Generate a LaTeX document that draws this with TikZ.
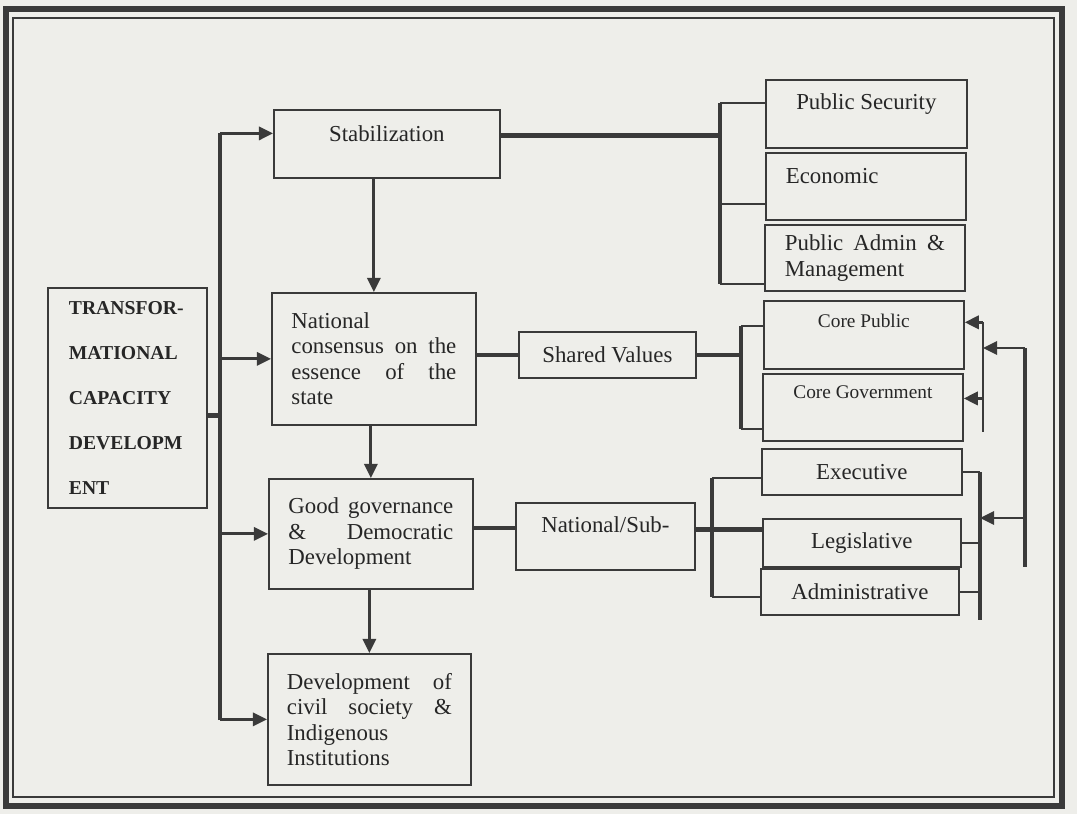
\documentclass[tikz,border=0pt]{standalone}
\usepackage{fontspec}
\setmainfont{Liberation Serif}
\usetikzlibrary{arrows.meta,calc}
\definecolor{ink}{RGB}{58,58,58}
\definecolor{inktext}{RGB}{38,38,38}
\definecolor{paper}{RGB}{238,238,234}
\tikzset{
  box/.style={draw=ink, line width=1pt, anchor=north west, inner sep=0pt,
    text=inktext, font=\fontsize{13}{14.5}\selectfont},
  para/.style={box, align=justify, text width=3.3cm},
  topline/.style 2 args={text height=#1, text depth=#2},
  conn/.style={draw=ink, line width=2.5pt},
  tick/.style={draw=ink, line width=1.2pt},
  arr/.style={draw=ink, line width=1.6pt, -{Triangle[length=8pt,width=7.5pt]}},
}

\begin{document}
\begin{tikzpicture}[x=0.02cm, y=-0.02cm]
\useasboundingbox (0,0) rectangle (1077,814);
\fill[paper] (0,0) rectangle (1077,814);
% frame
\draw[ink, line width=3.2pt] (6,9) rectangle (1062,806);
\draw[ink, line width=0.8pt] (13,18) rectangle (1054,797);

% left column
\node[box, minimum width=3.18cm, minimum height=4.4cm, align=left, text width=2.34cm,
  font=\bfseries\fontsize{11.2}{25.6}\selectfont] (tcd) at (47,287)
  {TRANSFOR-\\MATIONAL\\CAPACITY\\DEVELOPM\\ENT};

% middle column
\node[box, minimum width=4.52cm, topline={0.64cm}{0.72cm}] (stab) at (273,109) {Stabilization};
\node[para, minimum width=4.08cm, minimum height=2.64cm] (ncon) at (271,292)
  {National\newline consensus on the\linebreak essence of the\linebreak state};
\node[para, minimum width=4.08cm, minimum height=2.2cm] (ggov) at (268,478)
  {Good governance\linebreak \& Democratic\linebreak Development};
\node[para, minimum width=4.06cm, minimum height=2.62cm] (dev) at (267,653)
  {Development of\linebreak civil society \&\linebreak Indigenous\newline Institutions};

\node[box, minimum width=3.54cm, minimum height=0.92cm] (shv) at (518,331) {Shared Values};
\node[box, minimum width=3.58cm, topline={0.6cm}{0.74cm}] (nsub) at (515,502) {National/Sub-};

% right column
\node[box, minimum width=4.02cm, topline={0.6cm}{0.76cm}] (psec) at (765,79) {Public Security};
\node[box, minimum width=4.0cm, text width=3.2cm, align=left, topline={0.62cm}{0.72cm}] (econ) at (765,152) {Economic};
\node[para, text width=3.2cm, minimum width=4.0cm, minimum height=1.32cm] (padm) at (764,224)
  {Public Admin \&\linebreak Management};
\node[box, minimum width=4.0cm, topline={0.54cm}{0.82cm}, font=\fontsize{11}{13}\selectfont] (cpub) at (763,300) {Core Public};
\node[box, minimum width=4.0cm, topline={0.5cm}{0.84cm}, font=\fontsize{11}{13}\selectfont] (cgov) at (762,373) {Core Government};
\node[box, minimum width=4.0cm, minimum height=0.92cm] (exe) at (761,448) {Executive};
\node[box, minimum width=3.96cm, minimum height=0.96cm] (leg) at (762,518) {Legislative};
\node[box, minimum width=3.96cm, minimum height=0.92cm] (adm) at (760,568) {Administrative};

% spine on the left
\coordinate (spb) at (220,720);
\coordinate (stabin) at ($(stab.north west)!0.35!(stab.south west)$);
\coordinate (tcdout) at ($(tcd.north east)!0.58!(tcd.south east)$);
\draw[conn] (spb) -- (spb |- stabin);
\draw[conn] (tcdout) -- (tcdout -| spb);
\draw[arr] (spb |- stabin) -- (stabin);
\foreach \b in {ncon,ggov,dev}
  \draw[arr] (spb |- \b.west) -- (\b.west);

% down the middle
\draw[arr] (stab.south -| ncon.north) -- (ncon.north);
\draw[arr] (ncon.south -| ggov.north) -- (ggov.north);
\draw[arr] (ggov.south -| dev.north) -- (dev.north);

% stabilization bracket
\coordinate (b1) at (720,0);
\coordinate (stabout) at ($(stab.north east)!0.38!(stab.south east)$);
\coordinate (psin) at ($(psec.north west)!0.35!(psec.south west)$);
\coordinate (ecin) at ($(econ.north west)!0.75!(econ.south west)$);
\coordinate (pain) at ($(padm.north west)!0.88!(padm.south west)$);
\draw[conn] (stabout) -- (stabout -| b1);
\draw[conn] (b1 |- psin) -- (b1 |- pain);
\foreach \c in {psin,ecin,pain}
  \draw[tick] (b1 |- \c) -- (\c);

% shared values bracket
\coordinate (b2) at (741,0);
\coordinate (cpin) at ($(cpub.north west)!0.37!(cpub.south west)$);
\coordinate (cgin) at ($(cgov.north west)!0.82!(cgov.south west)$);
\draw[conn] (shv.west -| ncon.east) -- (shv.west);
\draw[conn] (shv.east) -- (shv.east -| b2);
\draw[conn] (b2 |- cpin) -- (b2 |- cgin);
\draw[tick] (b2 |- cpin) -- (cpin);
\draw[tick] (b2 |- cgin) -- (cgin);

% national/sub bracket
\coordinate (b3) at (712,0);
\coordinate (nsin) at ($(nsub.north west)!0.38!(nsub.south west)$);
\coordinate (lgin) at ($(leg.north west)!0.23!(leg.south west)$);
\coordinate (exin) at ($(exe.north west)!0.63!(exe.south west)$);
\coordinate (adin) at ($(adm.north west)!0.61!(adm.south west)$);
\draw[conn] (nsin -| ggov.east) -- (nsin);
\draw[conn] (lgin -| nsub.east) -- (lgin);
\draw[conn] (b3 |- exin) -- (b3 |- adin);
\draw[tick] (b3 |- exin) -- (exin);
\draw[tick] (b3 |- adin) -- (adin);

% right hand feedback
\coordinate (b4) at (980,620);
\draw[conn] (b4 |- exe.east) -- (b4);
\foreach \b in {exe,leg,adm}
  \draw[tick] (\b.east) -- (\b.east -| b4);
\coordinate (b5) at (983,432);
\coordinate (cpout) at ($(cpub.north east)!0.32!(cpub.south east)$);
\coordinate (cgout) at ($(cgov.north east)!0.37!(cgov.south east)$);
\draw[tick] (b5 |- cpout) -- (b5);
\draw[arr] (b5 |- cpout) -- (cpout);
\draw[arr] (b5 |- cgout) -- (cgout);
\coordinate (fbt) at (1025,348);
\coordinate (fbb) at (1025,567);
\coordinate (fbl) at (1025,518);
\draw[conn] (fbt) -- (fbb);
\draw[arr] (fbt) -- (fbt -| b5);
\draw[arr] (fbl) -- (fbl -| b4);
\end{tikzpicture}
\end{document}
